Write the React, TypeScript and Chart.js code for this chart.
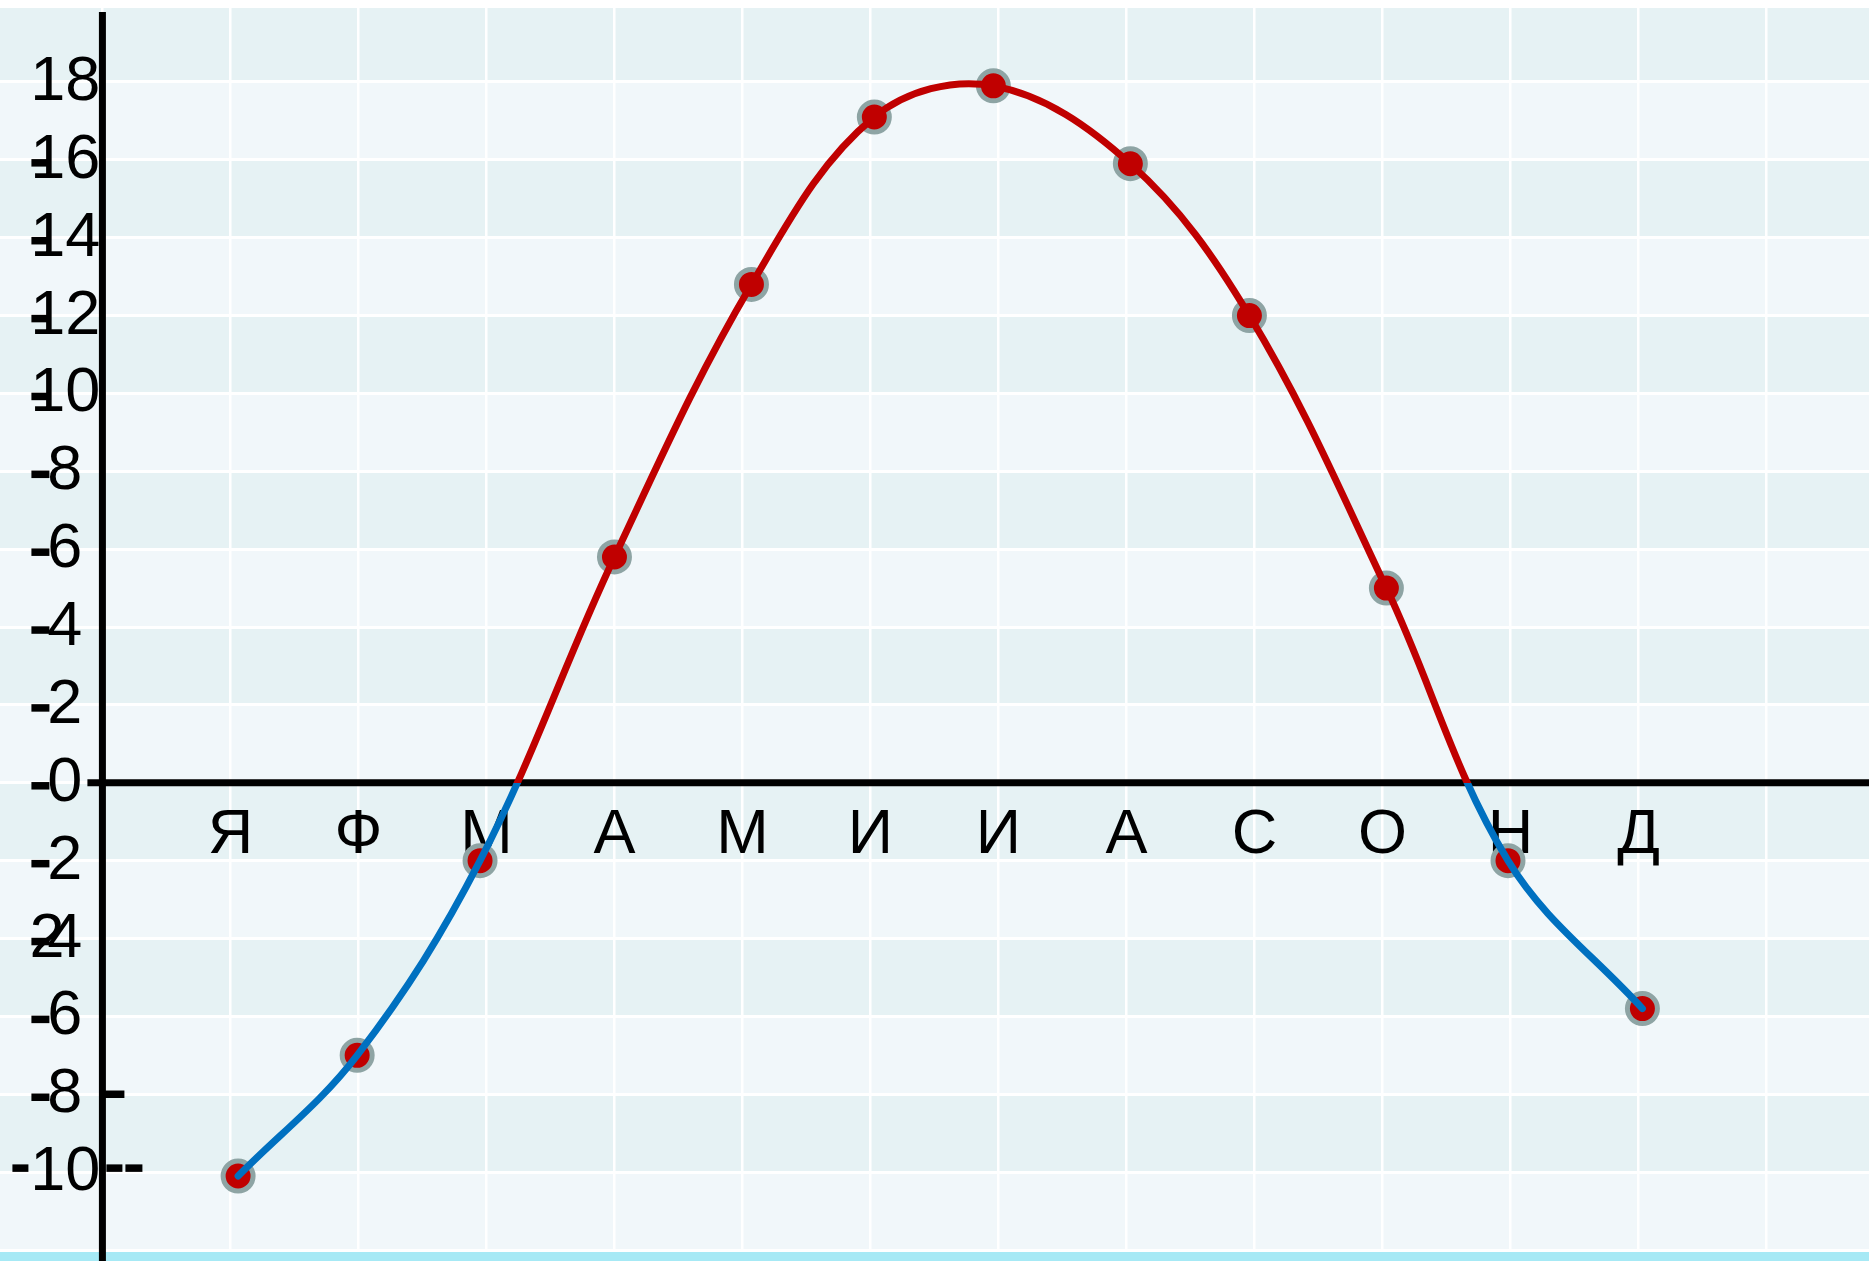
import React, { useEffect, useRef } from "react";
import { Chart, registerables } from "chart.js";

Chart.register(...registerables);

// Months (Russian initials) and monthly temperatures
const months = ["Я", "Ф", "М", "А", "М", "И", "И", "А", "С", "О", "Н", "Д"];
// where each month's marker sits along the month axis
const monthPositions = [1.06, 1.99, 2.95, 4.0, 5.07, 6.03, 6.96, 8.03, 8.96, 10.03, 10.98, 12.03];
const temperatures = [-10.1, -7, -2, 5.8, 12.8, 17.1, 17.9, 15.9, 12, 5, -2, -5.8];
const yTickValues = [18, 16, 14, 12, 10, 8, 6, 4, 2, 0, -2, -4, -6, -8, -10];

const RED = "#c00000";
const BLUE = "#0070c0";
const FONT = '63px "Liberation Sans", Arial, sans-serif';

const decorPlugin = {
  id: "decor",
  beforeDraw(chart: any) {
    const { ctx, chartArea: a, scales, width, height } = chart;
    const y = scales.y;
    ctx.save();
    ctx.fillStyle = "#ffffff";
    ctx.fillRect(0, 0, width, height);
    for (let v = -12; v < 20; v += 2) {
      const top = Math.max(y.getPixelForValue(v + 2), a.top);
      const bot = Math.min(y.getPixelForValue(v), a.bottom);
      const k = Math.round(v / 2);
      ctx.fillStyle = Math.abs(k) % 2 === 1 ? "#e6f2f4" : "#f1f7fa";
      ctx.fillRect(0, top, width, bot - top);
    }
    ctx.fillStyle = "#a6e9f5";
    ctx.fillRect(0, a.bottom, width, height - a.bottom);
    ctx.restore();
  },
  beforeDatasetsDraw(chart: any) {
    const { ctx, chartArea: a, scales, width, height } = chart;
    const x = scales.x;
    const y = scales.y;
    const x0 = x.getPixelForValue(0);
    const y0 = y.getPixelForValue(0);
    ctx.save();
    ctx.strokeStyle = "#000";
    ctx.lineCap = "butt";
    ctx.lineWidth = 7;
    ctx.beginPath();
    ctx.moveTo(x0, a.top + 4);
    ctx.lineTo(x0, height);
    ctx.stroke();
    ctx.beginPath();
    ctx.moveTo(x0 - 15, y0);
    ctx.lineTo(width, y0);
    ctx.stroke();

    const dash = (x1: number, x2: number, py: number) => {
      ctx.beginPath();
      ctx.moveTo(x1, py);
      ctx.lineTo(x2, py);
      ctx.stroke();
    };

    ctx.font = FONT;
    ctx.fillStyle = "#000";
    ctx.textBaseline = "alphabetic";
    ctx.textAlign = "right";
    ctx.lineWidth = 7.5;
    yTickValues.forEach((v, i) => {
      const py = y.getPixelForValue(v);
      const s = String(Math.abs(v));
      ctx.fillText(s, s.length > 1 ? x0 - 2 : x0 - 20, py + 18);
      if (i === 0) return;
      if (v <= -10) {
        dash(x0 - 90, x0 - 74, py - 4);
        dash(x0 + 4, x0 + 20, py - 4);
        dash(x0 + 23, x0 + 40, py - 4);
      } else {
        dash(x0 - 71, x0 - 53, py + 3);
      }
      if (v === -8) dash(x0 + 2, x0 + 22, py);
      if (v === -4) {
        ctx.textAlign = "left";
        ctx.fillText("2", x0 - 73, py + 18);
        ctx.textAlign = "right";
      }
    });

    ctx.textAlign = "center";
    months.forEach((m, i) => {
      ctx.fillText(m, x.getPixelForValue(i + 1), y0 + 70);
    });
    ctx.restore();
  },
};

export default function App() {
  const ref = useRef<HTMLCanvasElement | null>(null);
  useEffect(() => {
    if (!ref.current) return;
    const pts = temperatures.map((v, i) => ({ x: monthPositions[i], y: v }));
    const chart = new Chart(ref.current, {
      type: "line",
      data: {
        datasets: [
          {
            label: "line",
            data: pts,
            order: 0,
            borderWidth: 7,
            tension: 0.36,
            pointRadius: 0,
            borderCapStyle: "round",
            fill: false,
            borderColor: (c: any) => {
              const ch = c.chart;
              const a = ch.chartArea;
              if (!a) return RED;
              const zy = ch.scales.y.getPixelForValue(0);
              const g = ch.ctx.createLinearGradient(0, a.top, 0, a.bottom);
              const f = Math.min(1, Math.max(0, (zy - a.top) / (a.bottom - a.top)));
              g.addColorStop(0, RED);
              g.addColorStop(f, RED);
              g.addColorStop(f, BLUE);
              g.addColorStop(1, BLUE);
              return g;
            },
          } as any,
          {
            label: "points",
            data: pts,
            order: 1,
            showLine: false,
            pointRadius: 15,
            pointBorderWidth: 5,
            pointBackgroundColor: RED,
            pointBorderColor: "#8ea4a4",
          } as any,
        ],
      },
      options: {
        animation: false,
        responsive: true,
        maintainAspectRatio: false,
        layout: { autoPadding: false, padding: { top: 8, bottom: 11, left: 0, right: 0 } },
        plugins: { legend: { display: false }, tooltip: { enabled: false } },
        scales: {
          x: {
            type: "linear",
            min: -0.8,
            max: 13.8,
            ticks: { display: false, stepSize: 1, includeBounds: false },
            border: { display: false },
            grid: { color: "#ffffff", lineWidth: 2.5, drawTicks: false },
            afterFit: (s: any) => {
              s.height = 0;
            },
          },
          y: {
            type: "linear",
            min: -12,
            max: 19.9,
            ticks: { display: false, stepSize: 2, includeBounds: false },
            border: { display: false },
            grid: { color: "#ffffff", lineWidth: 3, drawTicks: false },
            afterFit: (s: any) => {
              s.width = 0;
            },
          },
        },
      } as any,
      plugins: [decorPlugin],
    });
    return () => chart.destroy();
  }, []);
  return (
    <div style={{ position: "absolute", left: 0, top: 0, width: 1869, height: 1261 }}>
      <canvas ref={ref} />
    </div>
  );
}
